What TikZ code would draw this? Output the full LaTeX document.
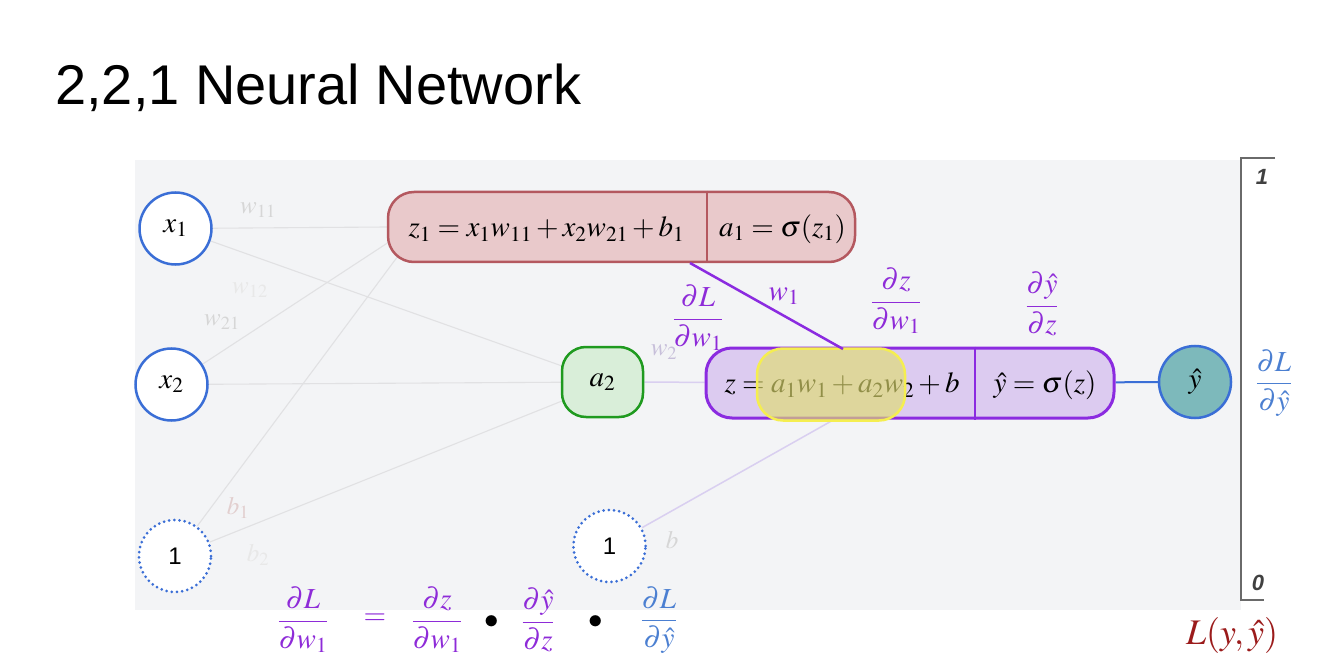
\documentclass[tikz,border=0pt]{standalone}
\usepackage{mathptmx}
\usepackage{fontspec}
\setmainfont{Liberation Serif}
\setsansfont{Liberation Sans}
\newfontfamily\titlefont{Liberation Sans}
\usetikzlibrary{backgrounds}
\definecolor{panel}{HTML}{F3F4F6}
\definecolor{nodeblue}{HTML}{3A6ED6}
\definecolor{zonefill}{HTML}{E9C9CB}
\definecolor{zonedraw}{HTML}{B4585F}
\definecolor{atwofill}{HTML}{D9EED9}
\definecolor{atwodraw}{HTML}{1F9A1F}
\definecolor{zfill}{HTML}{DCCBF0}
\definecolor{zdraw}{HTML}{8B2BE0}
\definecolor{hlfill}{HTML}{E0DC70}
\definecolor{hldraw}{HTML}{F5EE50}
\definecolor{yhatfill}{HTML}{7DB9BB}
\definecolor{faintgray}{HTML}{E1E1E3}
\definecolor{faintpurple}{HTML}{D9CFF0}
\definecolor{ptext}{HTML}{8E2BD8}
\definecolor{btext}{HTML}{4B7FD1}
\definecolor{lossred}{HTML}{9B1B1B}
\definecolor{flabel}{HTML}{D6D6D6}
\definecolor{flabelb}{HTML}{E8E8E8}
\definecolor{bracketgray}{HTML}{6A6A6A}
\newcommand\mfs{\fontsize{29}{34}\selectfont}
\tikzset{
  inp/.style={circle, draw=nodeblue, line width=2.5pt, fill=white, minimum size=72pt, inner sep=0pt, font=\mfs},
  biasnode/.style={inp, line width=3pt, line cap=round, dash pattern=on 0pt off 5.2pt, font=\sffamily\fontsize{24}{28}\selectfont},
  faint/.style={draw=faintgray, line width=1.1pt},
  faintp/.style={draw=faintpurple, line width=1.5pt},
  box/.style={rounded corners=26pt, line width=2.5pt, inner sep=0pt},
  txt/.style={inner sep=0pt, font=\mfs},
  flab/.style={inner sep=0pt, font=\fontsize{25}{28}\selectfont, text=flabel},
  plab/.style={inner sep=0pt, font=\mfs, text=ptext},
}
\begin{document}
\begin{tikzpicture}[x=1pt,y=-1pt]
\useasboundingbox (0,0) rectangle (1328,660);
% title
\node[anchor=base west, inner sep=0pt, font=\titlefont\fontsize{56}{60}\selectfont] (title) at (55,105) {2,2,1 Neural Network};

% nodes
\node[inp] (x1) at (175.5,228.5) {$x_1$};
\node[inp] (x2) at (171.5,384.5) {$x_2$};
\node[biasnode] (b1n) at (175,556) {1};
\node[biasnode] (b2n) at (609.5,546) {1};

\node[box, draw=zonedraw, fill=zonefill, minimum width=467pt, minimum height=70pt] (z1) at (621.5,227) {};
\node[txt] (z1t) at (546.5,229) {$z_1 = x_1w_{11} + x_2w_{21} + b_1$};
\node[txt] (a1t) at (782.5,229) {$a_1 = \sigma(z_1)$};

\node[box, rounded corners=24pt, draw=atwodraw, fill=atwofill, minimum width=81pt, minimum height=70pt, font=\mfs] (a2) at (602.5,382) {$a_2$};

\node[box, draw=zdraw, line width=3pt, fill=zfill, minimum width=408pt, minimum height=70pt] (z) at (910,383) {};
\node[txt] (zt) at (842,385) {$z = a_1w_1 + a_2w_2 + b$};
\node[txt] (yt) at (1045,385) {$\hat{y} = \sigma(z)$};
\node[box, draw=hldraw, fill=hlfill, fill opacity=0.65, minimum width=148pt, minimum height=72pt] (hl) at (831,384.5) {};

\node[inp, fill=yhatfill] (yhat) at (1195,382) {$\hat{y}$};

% dividers
\draw[zonedraw, line width=2pt] (z1.north -| 707,0) -- (z1.south -| 707,0);
\draw[zdraw, line width=2.5pt] (z.north -| 975,0) -- (z.south -| 975,0);

% connectors
\coordinate (z1a) at (392,240);
\coordinate (z1b) at (398,256);
\coordinate (a2a) at (562,366);
\coordinate (a2b) at (562,401);
\coordinate (w1s) at (690,263);
\coordinate (w1e) at (843,349);
\coordinate (zb) at (835,419);
\begin{pgfonlayer}{background}
  \fill[panel] (135,160) rectangle (1241,610);
  \draw[faint] (x1) -- (z1.west);
  \draw[faint] (x1) -- (a2a);
  \draw[faint] (x2) -- (z1a);
  \draw[faint] (x2) -- (a2);
  \draw[faint] (b1n) -- (z1b);
  \draw[faint] (b1n) -- (a2b);
  \draw[faintp] (a2) -- (z);
  \draw[faintp] (b2n) -- (zb);
  \draw[nodeblue, line width=2pt] (z) -- (yhat);
\end{pgfonlayer}
\draw[zdraw, line width=2.5pt] (w1s) -- (w1e);

% faint labels
\node[flab] (lw11) at (258,210) {$w_{11}$};
\node[flab, text=flabelb] (lw12) at (250,290) {$w_{12}$};
\node[flab] (lw21) at (222,322) {$w_{21}$};
\node[flab, text=flabel!70!pink] (lb1) at (238,508) {$b_1$};
\node[flab, text=flabelb] (lb2) at (258,555) {$b_2$};
\node[flab, text=faintpurple!80!gray] (lw2) at (664,352) {$w_2$};
\node[flab] (lb) at (672,540) {$b$};

% purple labels
\node[plab] (lw1) at (784,296) {$w_1$};
\node[plab] (dLdw1) at (698,318) {$\displaystyle\frac{\partial L}{\partial w_1}$};
\node[plab] (dzdw1) at (896,301) {$\displaystyle\frac{\partial z}{\partial w_1}$};
\node[plab] (dydz) at (1042,304) {$\displaystyle\frac{\partial \hat{y}}{\partial z}$};
\node[plab, text=btext] (dLdy) at (1274,383) {$\displaystyle\frac{\partial L}{\partial \hat{y}}$};

% bracket
\draw[bracketgray, line width=2pt] (1275,158) -- (1241,158) -- (1241,600) -- (1264,600);
\node[inner sep=0pt, font=\sffamily\bfseries\itshape\fontsize{22}{24}\selectfont, text=black!75] (one) at (1262,177) {1};
\node[inner sep=0pt, font=\sffamily\bfseries\itshape\fontsize{22}{24}\selectfont, text=black!75] (zero) at (1258,583) {0};
\node[inner sep=0pt, font=\fontsize{36}{40}\selectfont, text=lossred] (loss) at (1232,635) {$L(y,\hat{y})$};

% bottom equation
\node[plab] (e1) at (303,620) {$\displaystyle\frac{\partial L}{\partial w_1}$};
\node[plab] (e2) at (375,619) {$=$};
\node[plab] (e3) at (437,620) {$\displaystyle\frac{\partial z}{\partial w_1}$};
\node[txt] (e4) at (492,622) {$\bullet$};
\node[plab] (e5) at (538,620) {$\displaystyle\frac{\partial \hat{y}}{\partial z}$};
\node[txt] (e6) at (596,622) {$\bullet$};
\node[plab, text=btext] (e7) at (659,620) {$\displaystyle\frac{\partial L}{\partial \hat{y}}$};
\end{tikzpicture}
\end{document}
